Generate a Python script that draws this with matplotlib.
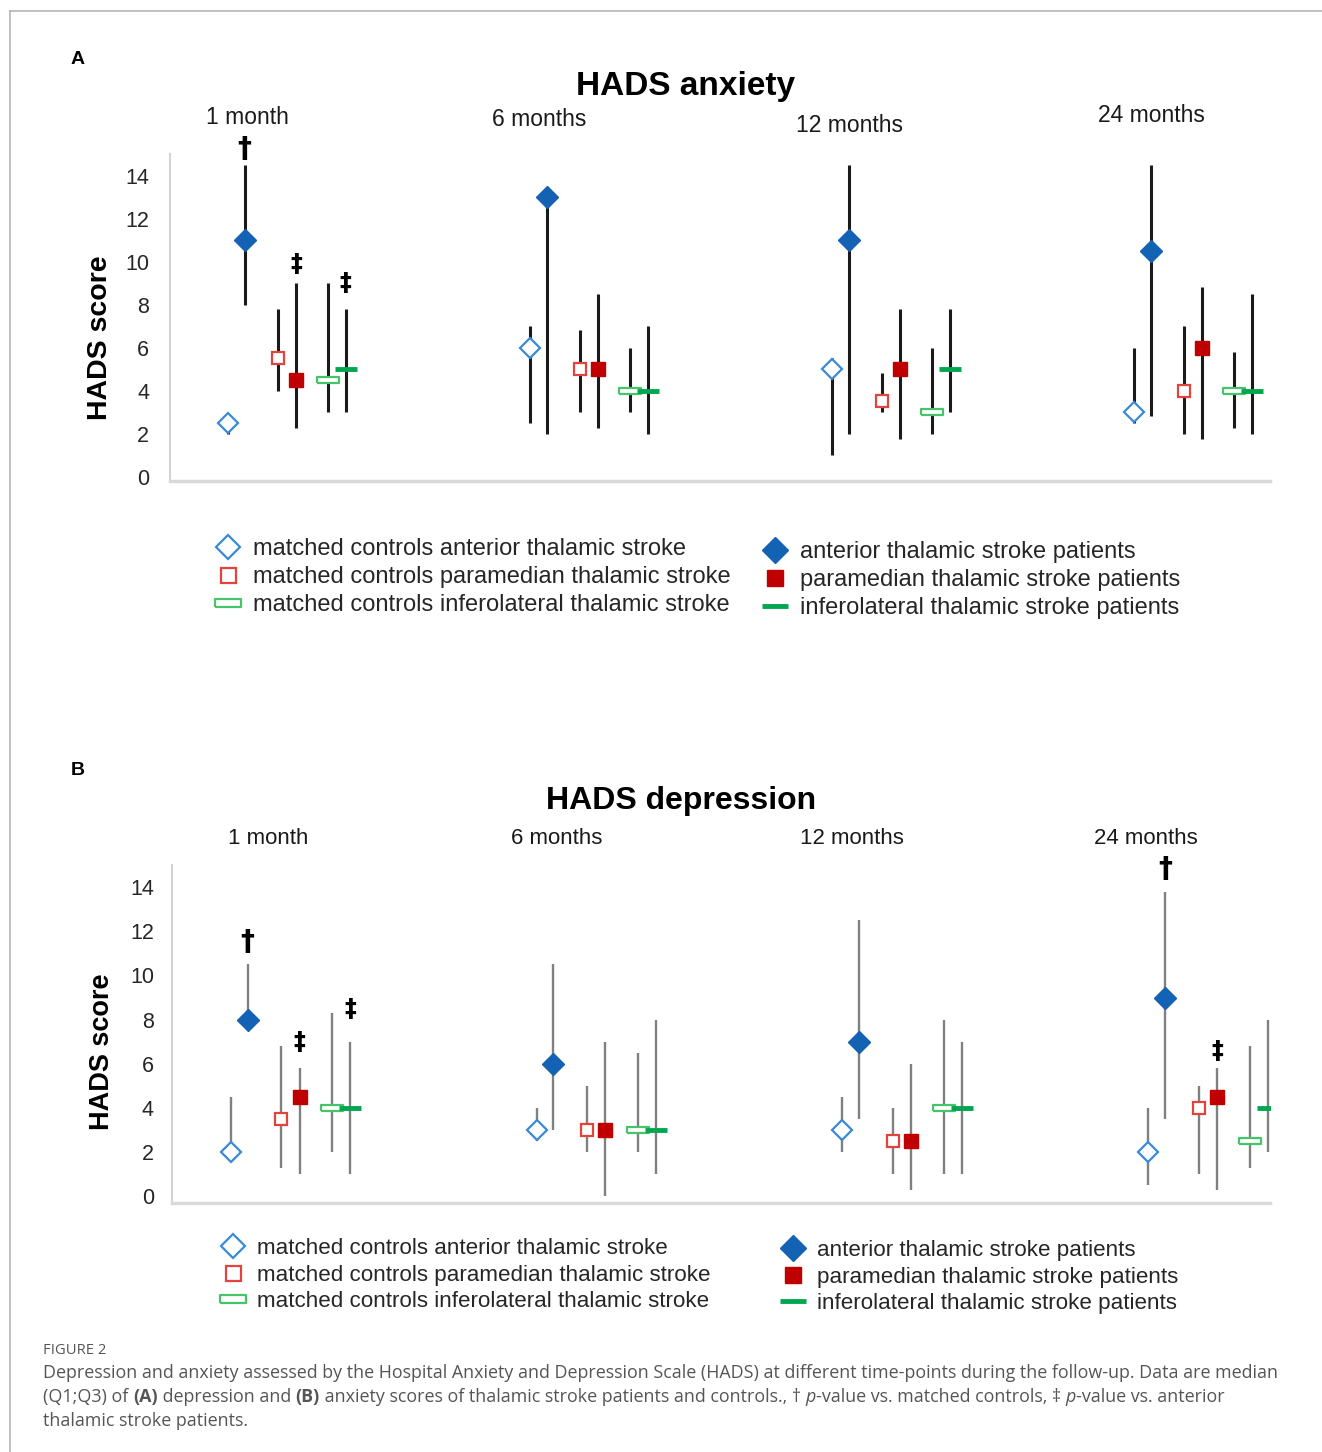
import matplotlib
matplotlib.use("Agg")
import matplotlib.pyplot as plt
from matplotlib.lines import Line2D
import numpy as np

W, H = 1322, 1452
plt.rcParams['font.family'] = ['Liberation Sans', 'DejaVu Sans']

groups = ["1 month", "6 months", "12 months", "24 months"]
# same order as the rows below
labels = ["matched controls anterior thalamic stroke",
          "anterior thalamic stroke patients",
          "matched controls paramedian thalamic stroke",
          "paramedian thalamic stroke patients",
          "matched controls inferolateral thalamic stroke",
          "inferolateral thalamic stroke patients"]

# rows: ant ctrl, ant pt, para ctrl, para pt, infero ctrl, infero pt
anx_median = [[2.5, 6, 5, 3], [11, 13, 11, 10.5], [5.5, 5, 3.5, 4],
              [4.5, 5, 5, 6], [4.5, 4, 3, 4], [5, 4, 5, 4]]
anx_q1 = [[2, 2.5, 1, 2.5], [8, 2, 2, 2.8], [4, 3, 3, 2],
          [2.25, 2.25, 1.75, 1.75], [3, 3, 2, 2.25], [3, 2, 3, 2]]
anx_q3 = [[2.5, 7, 5.5, 6], [14.5, 13, 14.5, 14.5], [7.8, 6.8, 4.8, 7],
          [9, 8.5, 7.8, 8.8], [9, 6, 6, 5.8], [7.8, 7, 7.8, 8.5]]

dep_median = [[2, 3, 3, 2], [8, 6, 7, 9], [3.5, 3, 2.5, 4],
              [4.5, 3, 2.5, 4.5], [4, 3, 4, 2.5], [4, 3, 4, 4]]
dep_q1 = [[2, 2.5, 2, 0.5], [7.5, 3, 3.5, 3.5], [1.3, 2, 1, 1],
          [1, 0, 0.3, 0.3], [2, 2, 1, 1.3], [1, 1, 1, 2]]
dep_q3 = [[4.5, 4, 4.5, 4], [10.5, 10.5, 12.5, 13.8], [6.8, 5, 4, 5],
          [5.8, 7, 6, 5.8], [8.3, 6.5, 8, 6.8], [7, 8, 7, 8]]

# significance marks: (group, series, y, symbol)
anx_marks = [(0, 1, 15.25, "†"), (0, 3, 9.9, "‡"), (0, 5, 9.0, "‡")]
dep_marks = [(0, 1, 11.5, "†"), (0, 3, 7.0, "‡"), (0, 5, 8.5, "‡"),
             (3, 1, 14.8, "†"), (3, 3, 6.6, "‡")]

offsets = [-0.195, -0.14, -0.03, 0.03, 0.137, 0.195]
box = [(-1, -0.3), (1, -0.3), (1, 0.3), (-1, 0.3), (-1, -0.3)]
styles = [
    dict(marker='D', ms=10, mfc='white', mec='#3a8ad6', mew=1.6),
    dict(marker='D', ms=11, mfc='#1462b3', mec='#1462b3', mew=1),
    dict(marker='s', ms=9, mfc='white', mec='#e3423d', mew=1.6),
    dict(marker='s', ms=10, mfc='#c00000', mec='#c00000', mew=1),
    dict(marker=box, ms=16, mfc='white', mec='#45c46a', mew=1.6),
    dict(marker='_', ms=16, mec='#00a650', mew=3.5),
]


def fx(px):
    return px / W


def fy(py):
    return 1 - py / H


fig = plt.figure(figsize=(W / 100, H / 100), dpi=100)

# frame around the figure
fig.add_artist(Line2D([fx(10), 1], [fy(11), fy(11)], color='#b5b5b5', lw=1.2))
fig.add_artist(Line2D([fx(10), fx(10)], [fy(11), 0], color='#b5b5b5', lw=1.2))


def panel(rect, med, q1, q3, marks, bar_color, bar_lw, xlim, ylim, pad):
    ax = fig.add_axes(rect)
    x = np.arange(len(groups))
    for k in range(6):
        xs = x + offsets[k]
        ax.vlines(xs, q1[k], q3[k], color=bar_color, lw=bar_lw, zorder=2)
        ax.plot(xs, med[k], linestyle='none', zorder=3, **styles[k])
    for g, s, y, sym in marks:
        ax.text(g + offsets[s], y, sym, ha='center', va='center',
                fontsize=20 if sym == "†" else 17, fontweight='bold',
                clip_on=False, family=['DejaVu Sans'])
    ax.set_xlim(*xlim)
    ax.set_ylim(*ylim)
    ax.set_xticks([])
    ax.set_yticks(range(0, 15, 2))
    ax.tick_params(axis='y', length=0, pad=pad, labelsize=15.5, labelcolor='#262626')
    for sp in ['top', 'right']:
        ax.spines[sp].set_visible(False)
    ax.spines['left'].set_color('#d4d4d4')
    ax.spines['left'].set_linewidth(1.5)
    ax.spines['bottom'].set_color('#d9d9d9')
    ax.spines['bottom'].set_linewidth(2.5)
    return ax


def legend(left_px, mid_py, idx, size):
    hs = [Line2D([], [], linestyle='none', **styles[k]) for k in idx]
    lg = fig.legend(hs, [labels[k] for k in idx], loc='center left',
                    bbox_to_anchor=(fx(left_px), fy(mid_py)), frameon=False,
                    fontsize=size, borderpad=0, borderaxespad=0, markerscale=1.2,
                    handlelength=1.2, handletextpad=0.45, labelspacing=0.25)
    for t in lg.get_texts():
        t.set_color('#262626')


# ---- panel A: anxiety
panel([fx(170), fy(481), fx(1270) - fx(170), fy(154) - fy(481)],
      anx_median, anx_q1, anx_q3, anx_marks, '#1a1a1a', 2.2,
      (-0.387, 3.255), (-0.2, 15), 15)
fig.text(fx(78), fy(59), "A", fontsize=14, fontweight='bold', ha='center', va='center')
fig.text(fx(686), fy(86), "HADS anxiety", fontsize=24, fontweight='bold', ha='center', va='center')
for name, px, py in zip(groups, [247, 539, 850, 1151], [117, 119, 125, 115]):
    fig.text(fx(px), fy(py), name, fontsize=16.5, ha='center', va='center', color='#1a1a1a')
fig.text(fx(100), fy(338), "HADS score", fontsize=20.5, fontweight='bold',
         rotation=90, ha='center', va='center')
legend(214, 577, [0, 2, 4], 17)
legend(761, 580, [1, 3, 5], 17)

# ---- panel B: depression
panel([fx(172), fy(1203), fx(1270) - fx(172), fy(865) - fy(1203)],
      dep_median, dep_q1, dep_q3, dep_marks, '#808080', 1.7,
      (-0.3875, 3.203), (-0.3, 15), 13)
fig.text(fx(78), fy(771), "B", fontsize=14, fontweight='bold', ha='center', va='center')
fig.text(fx(681), fy(801), "HADS depression", fontsize=23, fontweight='bold', ha='center', va='center')
for name, px in zip(groups, [268, 557, 852, 1146]):
    fig.text(fx(px), fy(838), name, fontsize=16, ha='center', va='center', color='#1a1a1a')
fig.text(fx(102), fy(1052), "HADS score", fontsize=19.5, fontweight='bold',
         rotation=90, ha='center', va='center')
legend(220, 1275, [0, 2, 4], 16.1)
legend(780, 1277, [1, 3, 5], 16.1)

# ---- caption
cap_font = ['Open Sans', 'DejaVu Sans']
cap_col = '#555555'
cap_size = 12.9
fig.text(fx(43), fy(1350), "FIGURE 2", fontsize=10.6, color=cap_col, va='center',
         family=cap_font)

renderer = fig.canvas.get_renderer()


def rich_line(px, py, parts):
    x = fx(px)
    for txt, kw in parts:
        t = fig.text(x, fy(py), txt, fontsize=cap_size, color=cap_col, va='center',
                     ha='left', family=cap_font, **kw)
        x += t.get_window_extent(renderer=renderer).width / W


rich_line(43, 1373, [("Depression and anxiety assessed by the Hospital Anxiety and Depression "
                      "Scale (HADS) at different time-points during the follow-up. Data are median", {})])
rich_line(43, 1397, [("(Q1;Q3) of ", {}), ("(A)", dict(fontweight='bold')),
                     (" depression and ", {}), ("(B)", dict(fontweight='bold')),
                     (" anxiety scores of thalamic stroke patients and controls., † ", {}),
                     ("p", dict(style='italic')),
                     ("-value vs. matched controls, ‡ ", {}),
                     ("p", dict(style='italic')),
                     ("-value vs. anterior", {})])
rich_line(43, 1421, [("thalamic stroke patients.", {})])

fig.savefig("out.png", dpi=100)
